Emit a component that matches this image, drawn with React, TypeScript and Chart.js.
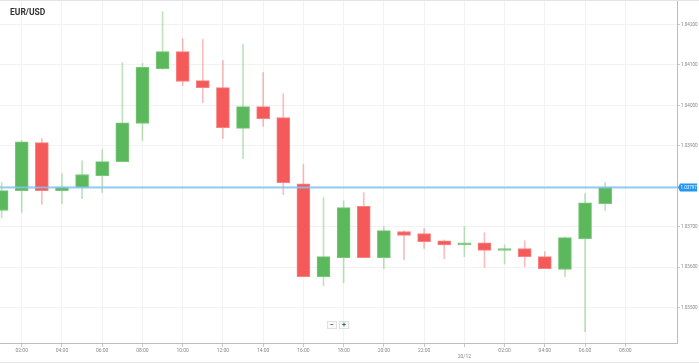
import React, { useEffect, useRef } from "react";
import { Chart, registerables } from "chart.js";

Chart.register(...registerables);

// hourly candles: 19/12 01:00 (hour 1) .. 20/12 07:00 (hour 31)
const hours = [1, 2, 3, 4, 5, 6, 7, 8, 9, 10, 11, 12, 13, 14, 15, 16, 17, 18, 19, 20, 21, 22, 23, 24, 25, 26, 27, 28, 29, 30, 31];
const opens = [1.0374, 1.03789, 1.03908, 1.03789, 1.03797, 1.03826, 1.03861, 1.03955, 1.04091, 1.04133, 1.04061, 1.04044, 1.03943, 1.03997, 1.0397, 1.03806, 1.03576, 1.03623, 1.0375, 1.03623, 1.03688, 1.03683, 1.03665, 1.03655, 1.0366, 1.03641, 1.03646, 1.03626, 1.03594, 1.0367, 1.03757];
const highs = [1.03809, 1.03913, 1.03918, 1.03831, 1.03863, 1.03891, 1.04106, 1.04104, 1.04232, 1.04165, 1.04163, 1.04111, 1.04151, 1.04081, 1.04029, 1.03854, 1.03772, 1.03764, 1.03784, 1.037, 1.0369, 1.03695, 1.03667, 1.037, 1.03685, 1.03655, 1.03665, 1.03638, 1.03675, 1.03782, 1.03809];
const lows = [1.03722, 1.03735, 1.03755, 1.03757, 1.03769, 1.03784, 1.03861, 1.03913, 1.04089, 1.04049, 1.04007, 1.03918, 1.03868, 1.03948, 1.03779, 1.03576, 1.03554, 1.03561, 1.03623, 1.03596, 1.03618, 1.03646, 1.03621, 1.03626, 1.03599, 1.03608, 1.03601, 1.03596, 1.03576, 1.0344, 1.0374];
const closes = [1.03789, 1.0391, 1.03789, 1.03797, 1.03829, 1.03861, 1.03957, 1.04094, 1.04133, 1.04059, 1.04044, 1.03945, 1.03997, 1.03967, 1.03809, 1.03576, 1.03626, 1.03747, 1.03623, 1.0369, 1.03678, 1.03663, 1.03655, 1.0366, 1.03641, 1.03646, 1.03626, 1.03596, 1.03673, 1.03759, 1.03797];

const xTickValues = [2, 4, 6, 8, 10, 12, 14, 16, 18, 20, 22, 24, 26, 28, 30, 32];
const yTickValues = [1.035, 1.036, 1.037, 1.038, 1.039, 1.04, 1.041, 1.042];
const currentPrice = 1.03797;
const chartTitle = "EUR/USD";
const dayLabel = "20/12";

const GREEN = "rgb(92,184,92)";
const GREEN_EDGE = "rgba(120,200,120,1)";
const GREEN_WICK = "rgba(92,184,92,0.4)";
const RED = "rgb(245,90,90)";
const RED_EDGE = "rgba(248,130,130,1)";
const RED_WICK = "rgba(245,90,90,0.4)";

const pricePlugin = {
  id: "priceLine",
  afterDatasetsDraw(chart: any) {
    const { ctx, chartArea, scales } = chart;
    const y = scales.y.getPixelForValue(currentPrice);
    ctx.save();
    ctx.strokeStyle = "rgba(130,195,240,0.85)";
    ctx.lineWidth = 2;
    ctx.beginPath();
    ctx.moveTo(chartArea.left, y);
    ctx.lineTo(chartArea.right, y);
    ctx.stroke();
    ctx.restore();
  },
  afterDraw(chart: any) {
    const { ctx, chartArea, scales } = chart;
    const y = scales.y.getPixelForValue(currentPrice);
    ctx.save();
    ctx.fillStyle = "#2196f3";
    const x0 = chartArea.right + 1;
    ctx.beginPath();
    ctx.moveTo(x0, y);
    ctx.lineTo(x0 + 2, y - 4);
    ctx.lineTo(x0 + 19, y - 4);
    ctx.lineTo(x0 + 19, y + 4);
    ctx.lineTo(x0 + 2, y + 4);
    ctx.closePath();
    ctx.fill();
    ctx.fillStyle = "#ffffff";
    ctx.font = "4.5px Roboto";
    ctx.textBaseline = "middle";
    ctx.textAlign = "left";
    ctx.fillText(currentPrice.toFixed(5), x0 + 2.5, y + 0.5);
    ctx.restore();
  },
};

function fmtHour(v: number) {
  if (v % 24 === 0) return ["", dayLabel];
  const h = v % 24;
  return (h < 10 ? "0" : "") + h + ":00";
}

export default function App() {
  const ref = useRef<HTMLCanvasElement>(null);
  useEffect(() => {
    if (!ref.current) return;
    const up = closes.map((c, i) => c >= opens[i]);
    const chart = new Chart(ref.current, {
      type: "bar",
      data: {
        datasets: [
          {
            label: "wick",
            data: hours.map((h, i) => ({ x: h, y: [lows[i], highs[i]] })) as any,
            backgroundColor: up.map((u) => (u ? GREEN_WICK : RED_WICK)),
            borderWidth: 0,
            barThickness: 1,
            grouped: false,
            order: 2,
          } as any,
          {
            label: "body",
            data: hours.map((h, i) => ({ x: h, y: [opens[i], closes[i]] })) as any,
            backgroundColor: up.map((u) => (u ? GREEN : RED)),
            borderColor: up.map((u) => (u ? GREEN_EDGE : RED_EDGE)),
            borderWidth: 1,
            borderSkipped: false,
            barThickness: 13,
            grouped: false,
            order: 1,
          } as any,
        ],
      },
      options: {
        responsive: false,
        animation: false,
        layout: { padding: { top: 1, left: 0, right: 0, bottom: 0 } },
        plugins: { legend: { display: false }, tooltip: { enabled: false }, title: { display: false } },
        scales: {
          x: {
            type: "linear",
            min: 0.92,
            max: 34.57,
            offset: false,
            grid: { color: "#f2f2f2", offset: false, tickLength: 4, tickColor: "#c8c8c8" },
            border: { color: "#bdbdbd", width: 1 },
            afterBuildTicks: (scale: any) => {
              scale.ticks = xTickValues.map((v) => ({ value: v }));
            },
            afterFit: (scale: any) => {
              scale.height = 21;
              scale.paddingLeft = 0;
              scale.paddingRight = 0;
            },
            ticks: {
              autoSkip: false,
              maxRotation: 0,
              padding: 1,
              color: "#888",
              font: { family: "Roboto", size: 5, lineHeight: 1.2 },
              callback: (v: any) => fmtHour(Number(v)),
            },
          },
          y: {
            type: "linear",
            position: "right",
            min: 1.034122,
            max: 1.042581,
            grid: { color: "#f2f2f2", tickLength: 3, tickColor: "#c8c8c8" },
            border: { color: "#bdbdbd", width: 1 },
            afterBuildTicks: (scale: any) => {
              scale.ticks = yTickValues.map((v) => ({ value: v }));
            },
            afterFit: (scale: any) => {
              scale.width = 22;
              scale.paddingTop = 0;
              scale.paddingBottom = 0;
            },
            ticks: {
              padding: 1,
              color: "#888",
              font: { family: "Roboto", size: 4.6 },
              callback: (v: any) => (Math.abs(Number(v) - 1.038) < 1e-7 ? "" : Number(v).toFixed(5)),
            },
          },
        },
      },
      plugins: [pricePlugin],
    } as any);
    return () => chart.destroy();
  }, []);

  const btn: React.CSSProperties = {
    position: "absolute",
    top: 321,
    width: 8,
    height: 6,
    border: "1px solid #e0e0e0",
    background: "#fafafa",
    color: "#555",
    font: "bold 7px Roboto",
    lineHeight: "6px",
    textAlign: "center",
    boxSizing: "content-box",
  };

  return (
    <div style={{ position: "fixed", left: 0, top: 0, width: 699, height: 364, background: "#fff", overflow: "hidden" }}>
      <canvas ref={ref} width={699} height={364} style={{ position: "absolute", left: 0, top: 0, width: 699, height: 364 }} />
      <div style={{ position: "absolute", left: 0, top: 0, width: 699, height: 1, background: "#e4e4e4" }} />
      <div style={{ position: "absolute", left: 0, top: 362, width: 699, height: 1, background: "#e4e4e4" }} />
      <div style={{ position: "absolute", left: 10, top: 7, font: "bold 8.5px Roboto", color: "#333" }}>{chartTitle}</div>
      <div style={{ ...btn, left: 327 }}>−</div>
      <div style={{ ...btn, left: 339 }}>+</div>
    </div>
  );
}
